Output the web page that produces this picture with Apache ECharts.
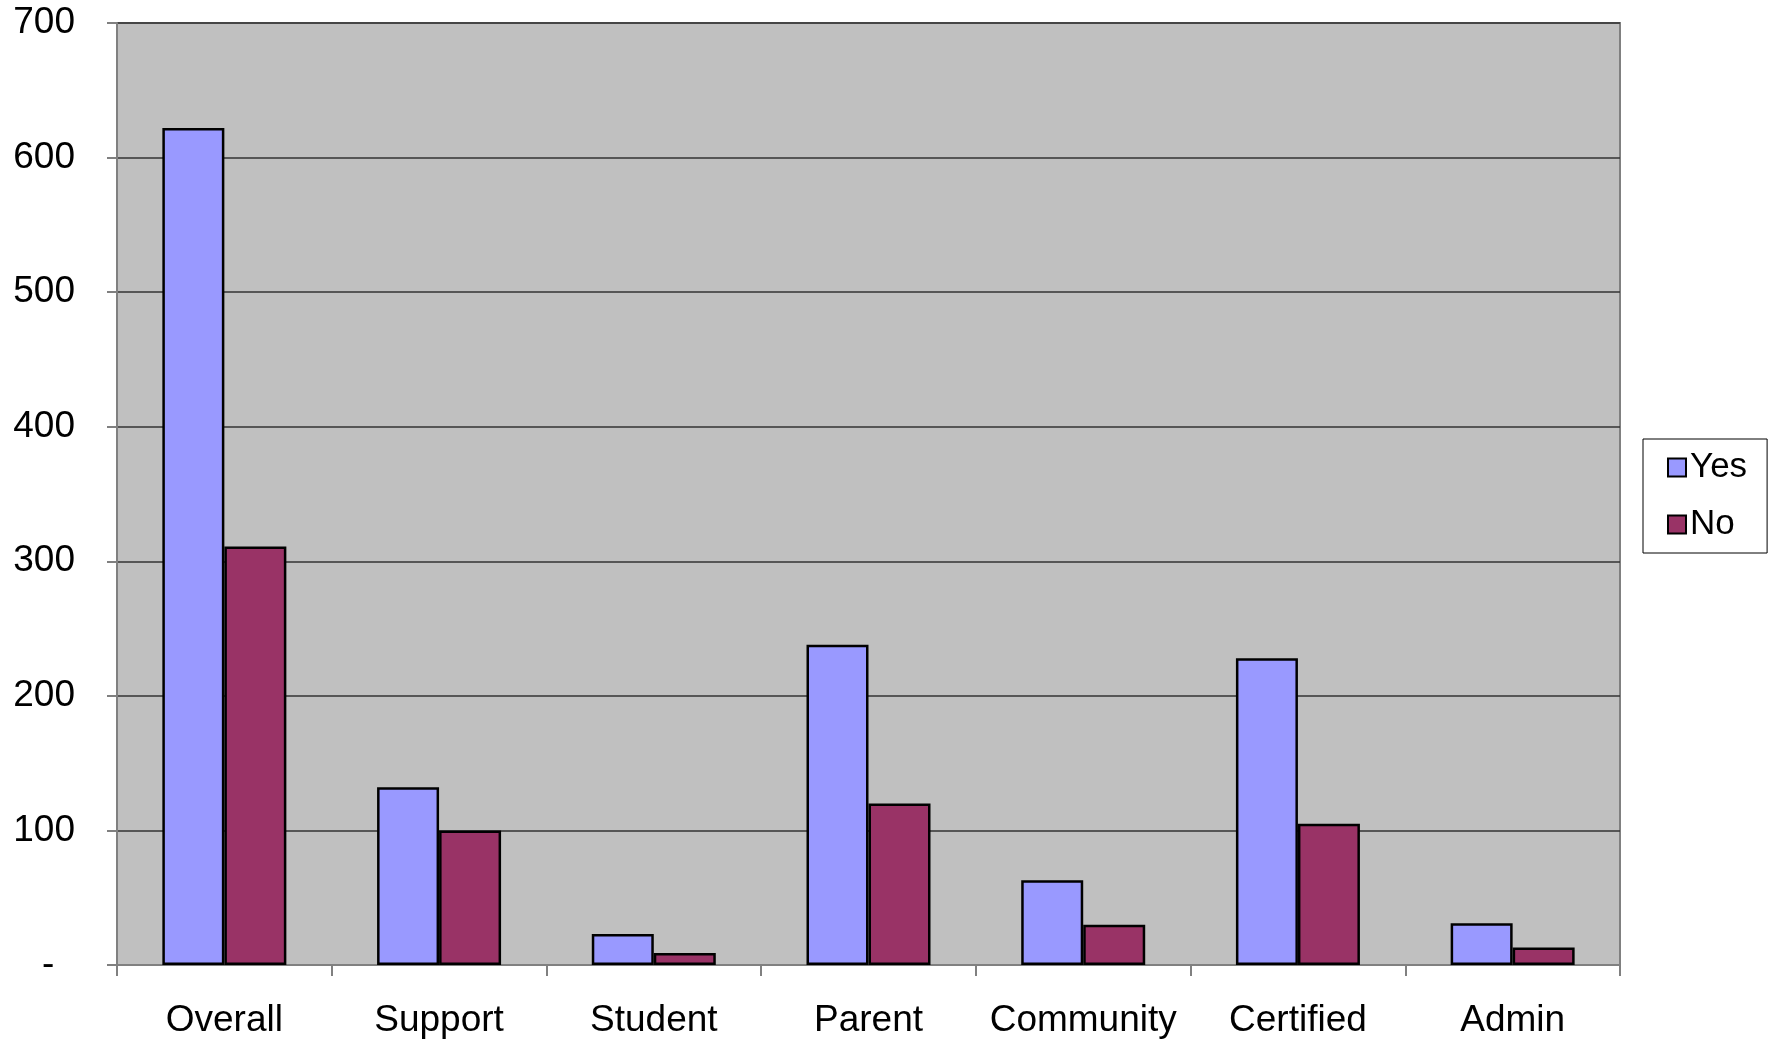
<!DOCTYPE html>
<html>
<head>
<meta charset="utf-8">
<script src="https://cdn.jsdelivr.net/npm/echarts@6/dist/echarts.min.js"></script>
<style>
  html, body { margin: 0; padding: 0; background: #fff; }
  #chart { width: 1772px; height: 1044px; }
</style>
</head>
<body>
<div id="chart"></div>
<script>
const categories = ['Overall', 'Support', 'Student', 'Parent', 'Community', 'Certified', 'Admin'];
const yesValues = [622, 132, 23, 238, 63, 228, 31];
const noValues = [311, 100, 9, 120, 30, 105, 13];
const yTicks = { min: 0, max: 700, interval: 100 };

const font = 'Liberation Sans, Arial, sans-serif';
const chart = echarts.init(document.getElementById('chart'));

const barStyle = (color) => ({
    color: color,
    borderColor: '#000',
    borderWidth: 2.5
});

chart.setOption({
    animation: false,
    backgroundColor: '#fff',
    textStyle: { fontFamily: font },
    grid: {
        left: 117, right: 152, top: 23, bottom: 79,
        show: true,
        backgroundColor: '#c0c0c0',
        borderColor: '#808080',
        borderWidth: 2
    },
    legend: {
        data: ['Yes', 'No'],
        orient: 'vertical',
        icon: 'rect',
        left: 1643, top: 439,
        itemWidth: 18, itemHeight: 18,
        itemGap: 22,
        padding: [11, 20, 11, 24],
        borderColor: '#000',
        borderWidth: 1,
        backgroundColor: '#fff',
        textStyle: { fontSize: 35, color: '#000', fontFamily: font, padding: [0, 0, 0, -1] }
    },
    xAxis: {
        type: 'category',
        data: categories,
        boundaryGap: true,
        axisLine: { lineStyle: { color: '#808080', width: 2 } },
        axisTick: { show: true, length: 11, lineStyle: { color: '#808080', width: 2 } },
        axisLabel: { fontSize: 37, color: '#000', margin: 37, fontFamily: font, interval: 0 }
    },
    yAxis: {
        type: 'value',
        min: yTicks.min, max: yTicks.max, interval: yTicks.interval,
        axisLine: { show: true, lineStyle: { color: '#808080', width: 2 } },
        axisTick: { show: true, length: 10, lineStyle: { color: '#808080', width: 2 } },
        axisLabel: {
            fontSize: 37, color: '#000', margin: 42, fontFamily: font,
            formatter: v => v === 0 ? '-  ' : String(v)
        },
        splitLine: { show: true, lineStyle: { color: '#333', width: 1.5 } }
    },
    series: [
        {
            name: 'Yes', type: 'bar', data: yesValues,
            barWidth: 62, barGap: '0%',
            itemStyle: barStyle('#9999ff')
        },
        {
            name: 'No', type: 'bar', data: noValues,
            barWidth: 62, barGap: '0%',
            itemStyle: barStyle('#993366')
        }
    ]
});
</script>
</body>
</html>
